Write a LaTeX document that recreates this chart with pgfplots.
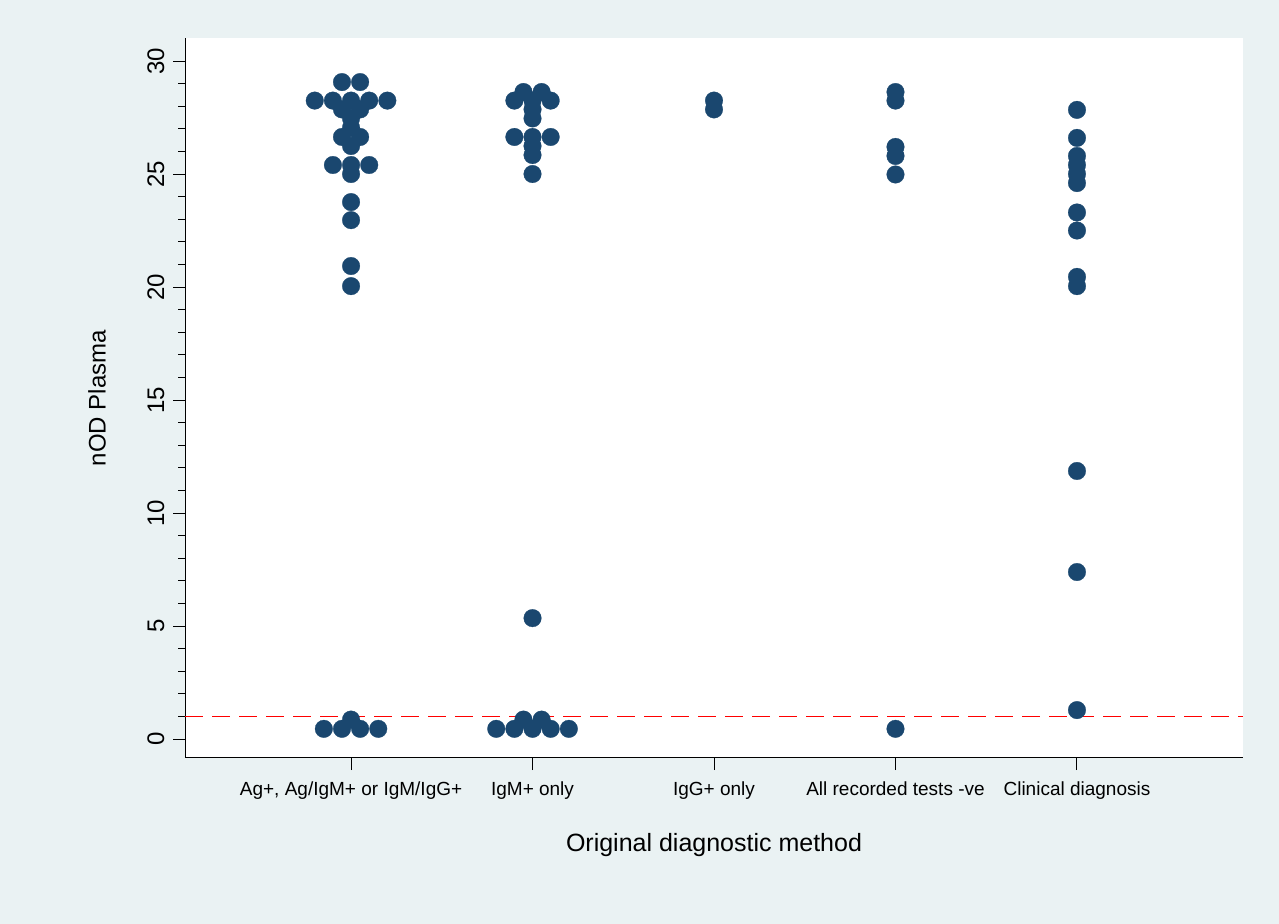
\documentclass[border=0pt]{standalone}
\usepackage{pgfplots}
\pgfplotsset{compat=1.18}
\usepackage{fontspec}
\setmainfont{Liberation Sans}
\definecolor{bg}{RGB}{234,242,243}
\definecolor{stnavy}{RGB}{26,71,111}
\pgfplotsset{dots/.style={only marks, color=stnavy, mark=*, mark size=8.8bp, mark options={fill=stnavy, draw=stnavy, line width=0.3bp}}}
\begin{document}
\begin{tikzpicture}
\fill[bg] (0bp,0bp) rectangle (1279bp,924bp);
\begin{axis}[
  at={(185bp,166bp)}, anchor=south west,
  scale only axis, width=1058bp, height=720bp,
  xmin=0.085, xmax=5.915, ymin=-0.84, ymax=31.02,
  axis x line*=bottom, axis y line*=left,
  axis line style={black, line width=1bp},
  axis background/.style={fill=white},
  xtick={1,2,3,4,5},
  xticklabels={{Ag+, Ag/IgM+ or IgM/IgG+},{IgM+ only},{IgG+ only},{All recorded tests -ve},{Clinical diagnosis}},
  ytick={0,5,10,15,20,25,30},
  minor y tick num=4,
  tick align=outside,
  major tick length=12bp, minor tick length=7bp,
  tick style={black, line width=1bp},
  /pgf/number format/assume math mode=true,
  xticklabel shift=8bp,
  yticklabel shift=5bp,
  xticklabel style={font=\fontsize{19bp}{22bp}\selectfont, anchor=north},
  yticklabel style={font=\fontsize{24bp}{28bp}\selectfont, rotate=90, anchor=south},
  xlabel={Original diagnostic method},
  xlabel style={font=\fontsize{25bp}{30bp}\selectfont, at={(axis description cs:0.5,-0.121)}, anchor=center},
  ylabel={nOD Plasma},
  ylabel style={font=\fontsize{24bp}{28bp}\selectfont, at={(axis description cs:-0.0832,0.5)}, anchor=center},
  clip=false,
]
\addplot[red, line width=1.5bp, dash pattern=on 18bp off 9bp] coordinates {(0.085,1) (5.915,1)};
\addplot[dots] coordinates {
 (0.95,29.07)(1.05,29.07)
 (0.8,28.25)(0.9,28.25)(1,28.25)(1.1,28.25)(1.2,28.25)
 (0.95,27.86)(1.05,27.86)
 (1,27.46)(1,27.05)
 (0.95,26.64)(1.05,26.64)
 (1,26.24)
 (0.9,25.4)(1,25.4)(1.1,25.4)
 (1,25.0)
 (1,23.76)(1,22.96)(1,20.93)(1,20.04)
 (1,0.86)
 (0.85,0.45)(0.95,0.45)(1.05,0.45)(1.15,0.45)
};
\addplot[dots] coordinates {
 (1.95,28.63)(2.05,28.63)
 (1.9,28.25)(2,28.25)(2.1,28.25)
 (2,27.86)(2,27.46)
 (1.9,26.64)(2,26.64)(2.1,26.64)
 (2,26.24)(2,25.84)
 (2,25.0)
 (2,5.35)
 (1.95,0.86)(2.05,0.86)
 (1.8,0.45)(1.9,0.45)(2,0.45)(2.1,0.45)(2.2,0.45)
};
\addplot[dots] coordinates {
 (3,28.25)(3,27.86)
};
\addplot[dots] coordinates {
 (4,28.63)(4,28.25)(4,26.2)(4,25.8)(4,24.98)(4,0.45)
};
\addplot[dots] coordinates {
 (5,27.84)(5,26.6)(5,25.8)(5,25.4)(5,25.0)(5,24.6)(5,23.3)(5,22.5)(5,20.45)(5,20.04)(5,11.86)(5,7.39)(5,1.28)
};
\end{axis}
\end{tikzpicture}
\end{document}
